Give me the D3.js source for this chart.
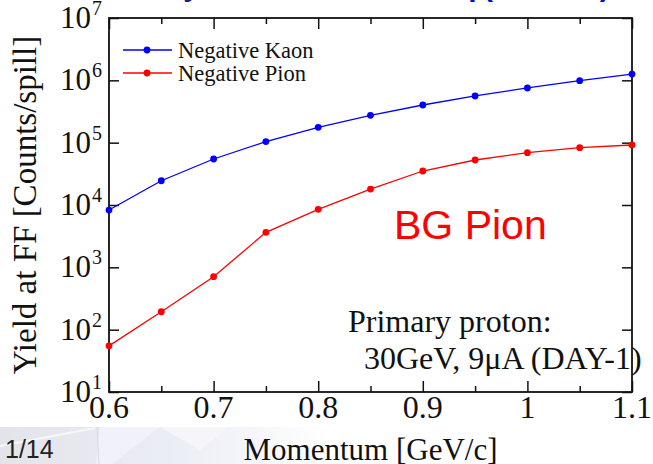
<!DOCTYPE html>
<html>
<head>
<meta charset="utf-8">
<script src="https://cdn.jsdelivr.net/npm/d3@7"></script>
<style>
  html, body { margin: 0; padding: 0; background: #ffffff; }
  svg { display: block; }
  .serif { font-family: "Liberation Serif", "Times New Roman", serif; }
  .sans { font-family: "Liberation Sans", Arial, sans-serif; }
</style>
</head>
<body>
<svg id="chart" width="653" height="464"></svg>
<script>
// Momentum points (GeV/c)
const momentum = [0.6, 0.65, 0.7, 0.75, 0.8, 0.85, 0.9, 0.95, 1.0, 1.05, 1.1];
// Yield at FF in counts per spill
const kaonYield = [8300, 24500, 54700, 104000, 176000, 275000, 402000, 561000, 754000, 988000, 1260000];
const pionYield = [55, 194, 707, 3640, 8520, 18000, 35100, 52700, 69000, 83000, 91700];

const seriesNames = ["Negative Kaon", "Negative Pion"];
const xMajorTicks = [0.6, 0.7, 0.8, 0.9, 1.0, 1.1];
const xMinorTicks = [0.65, 0.75, 0.85, 0.95, 1.05];
const xTickLabels = ["0.6", "0.7", "0.8", "0.9", "1", "1.1"];
const yExponents = [1, 2, 3, 4, 5, 6, 7];

const svg = d3.select("#chart");
const W = 653, H = 464;
const plot = { left: 109, right: 632, top: 18, bottom: 392 };

const x = d3.scaleLinear().domain([0.6, 1.1]).range([plot.left, plot.right]);
const y = d3.scaleLog().domain([10, 1e7]).range([plot.bottom, plot.top]);

// slide background strip along the bottom
const defs = svg.append("defs");
const g1 = defs.append("linearGradient").attr("id", "slideBg").attr("x1", 0).attr("x2", 1).attr("y1", 0).attr("y2", 0);
g1.append("stop").attr("offset", 0).attr("stop-color", "#e3e4ea");
g1.append("stop").attr("offset", 0.55).attr("stop-color", "#eceef5");
g1.append("stop").attr("offset", 1).attr("stop-color", "#ffffff");
svg.append("rect").attr("x", 0).attr("y", 427).attr("width", 330).attr("height", H - 427).attr("fill", "url(#slideBg)");
svg.append("path").attr("d", "M100,427 L160,427 L112,464 L96,464 Z").attr("fill", "#f1f1fa");
svg.append("path").attr("d", "M0,446 L95,428").attr("stroke", "#f7f7f9").attr("stroke-width", 2).attr("fill", "none");
svg.append("path").attr("d", "M97,427 L99,464").attr("stroke", "#d8d9e0").attr("stroke-width", 1).attr("fill", "none");
svg.append("path").attr("d", "M160,427 L230,427 L200,450 Z").attr("fill", "#f5f5fa");

// slide title, mostly above the top edge
const title = svg.append("text").attr("class", "sans").attr("y", -4)
  .attr("font-size", 30).attr("font-weight", "bold");
title.append("tspan").attr("x", 100).attr("fill", "#1c1c84").text("Kaon yield");
title.append("tspan").attr("x", 265).attr("fill", "#0a0ad8").text("at the beam top");
title.append("tspan").attr("x", 483).attr("fill", "#0a0ad8").text("(K1.8BR)");

// ticks: bottom and top (inward), left and right (inward)
function styleAxis(g) {
  g.select(".domain").remove();
  g.selectAll(".tick line").attr("stroke", "#111").attr("stroke-width", 1.5);
  g.selectAll(".tick text").remove();
}
svg.append("g").attr("transform", `translate(0,${plot.bottom})`)
  .call(d3.axisBottom(x).tickValues(xMajorTicks).tickSize(-11).tickFormat(""))
  .call(styleAxis);
svg.append("g").attr("transform", `translate(0,${plot.bottom})`)
  .call(d3.axisBottom(x).tickValues(xMinorTicks).tickSize(-6).tickFormat(""))
  .call(styleAxis);
svg.append("g").attr("transform", `translate(0,${plot.top})`)
  .call(d3.axisTop(x).tickValues(xMajorTicks).tickSize(-11).tickFormat(""))
  .call(styleAxis);
svg.append("g").attr("transform", `translate(0,${plot.top})`)
  .call(d3.axisTop(x).tickValues(xMinorTicks).tickSize(-6).tickFormat(""))
  .call(styleAxis);
const yTickVals = yExponents.map(e => Math.pow(10, e));
svg.append("g").attr("transform", `translate(${plot.left},0)`)
  .call(d3.axisLeft(y).tickValues(yTickVals).tickSize(-10).tickFormat(""))
  .call(styleAxis);
svg.append("g").attr("transform", `translate(${plot.right},0)`)
  .call(d3.axisRight(y).tickValues(yTickVals).tickSize(-10).tickFormat(""))
  .call(styleAxis);

// frame
svg.append("rect")
  .attr("x", plot.left).attr("y", plot.top)
  .attr("width", plot.right - plot.left).attr("height", plot.bottom - plot.top)
  .attr("fill", "none").attr("stroke", "#111").attr("stroke-width", 1.8);

// x tick labels
svg.append("g").selectAll("text").data(xMajorTicks).join("text")
  .attr("class", "serif").attr("font-size", 32).attr("fill", "#111")
  .attr("text-anchor", "middle")
  .attr("x", d => x(d)).attr("y", 418)
  .text((d, i) => xTickLabels[i]);

// y tick labels as powers of ten
const yl = svg.append("g").selectAll("g").data(yExponents).join("g")
  .attr("transform", e => `translate(0,${y(Math.pow(10, e))})`);
yl.append("text").attr("class", "serif").attr("font-size", 31).attr("fill", "#111")
  .attr("text-anchor", "end").attr("x", 91).attr("y", 10).text("10");
yl.append("text").attr("class", "serif").attr("font-size", 20).attr("fill", "#111")
  .attr("x", 92).attr("y", -3).text(e => e);

// axis titles
svg.append("text").attr("class", "serif").attr("font-size", 31).attr("fill", "#111")
  .attr("text-anchor", "middle").attr("x", (plot.left + plot.right) / 2).attr("y", 460)
  .text("Momentum [GeV/c]");
svg.append("text").attr("class", "serif").attr("font-size", 33).attr("fill", "#111")
  .attr("text-anchor", "middle")
  .attr("transform", `translate(36,${(plot.top + plot.bottom) / 2}) rotate(-90)`)
  .text("Yield at FF [Counts/spill]");

// series
const series = [
  { name: seriesNames[0], values: kaonYield, color: "#0000ff" },
  { name: seriesNames[1], values: pionYield, color: "#ff0000" }
];
const line = d3.line().x((d, i) => x(momentum[i])).y(d => y(d));
series.forEach(s => {
  svg.append("path").datum(s.values)
    .attr("d", line).attr("fill", "none")
    .attr("stroke", s.color).attr("stroke-width", 1.3);
  svg.append("g").selectAll("circle").data(s.values).join("circle")
    .attr("cx", (d, i) => x(momentum[i])).attr("cy", d => y(d))
    .attr("r", 3.4).attr("fill", s.color);
});

// legend
const lg = svg.append("g").selectAll("g").data(series).join("g")
  .attr("transform", (d, i) => `translate(0,${50 + i * 23})`);
lg.append("line").attr("x1", 123).attr("x2", 172).attr("y1", 0).attr("y2", 0)
  .attr("stroke", d => d.color).attr("stroke-width", 1.3);
lg.append("circle").attr("cx", 147).attr("cy", 0).attr("r", 3.4).attr("fill", d => d.color);
lg.append("text").attr("class", "serif").attr("font-size", 22.5).attr("fill", "#111")
  .attr("x", 178).attr("y", 8).text(d => d.name);

// annotations
svg.append("text").attr("class", "sans").attr("font-size", 41).attr("fill", "#ff0000")
  .attr("x", 394).attr("y", 239).text("BG Pion");
svg.append("text").attr("class", "serif").attr("font-size", 32).attr("fill", "#111")
  .attr("x", 348).attr("y", 332).text("Primary proton:");
svg.append("text").attr("class", "serif").attr("font-size", 32).attr("fill", "#111")
  .attr("x", 364).attr("y", 369).text("30GeV, 9\u03bcA (DAY-1)");

// slide number
svg.append("text").attr("class", "sans").attr("font-size", 25).attr("fill", "#222")
  .attr("x", 5).attr("y", 458).text("1/14");
</script>
</body>
</html>
